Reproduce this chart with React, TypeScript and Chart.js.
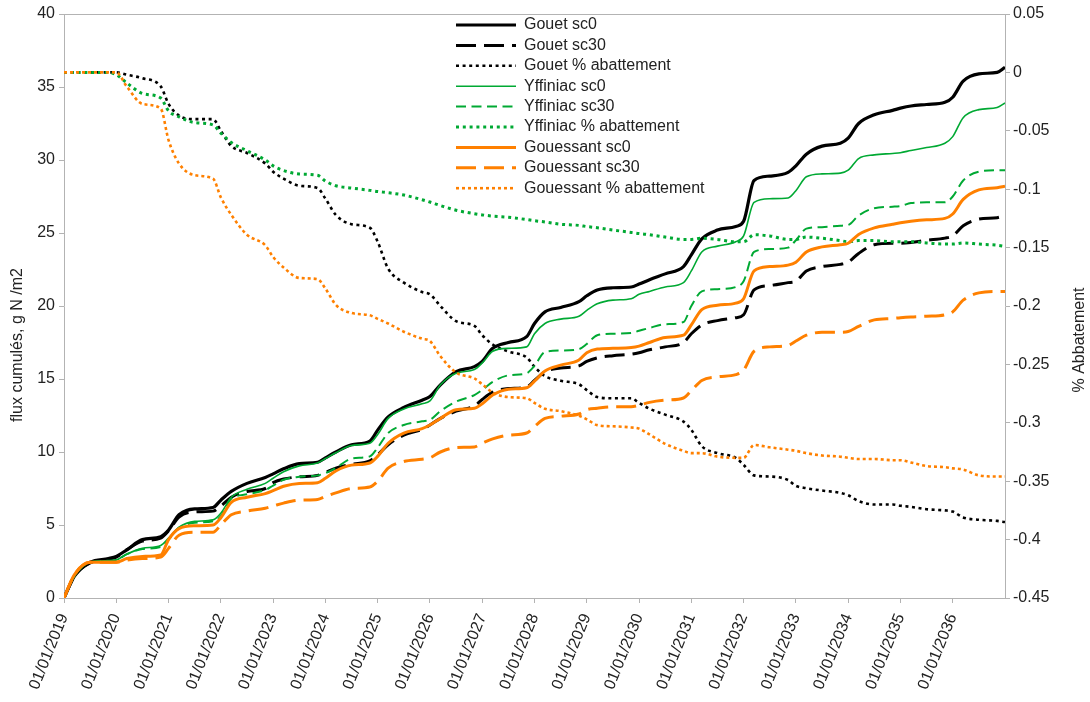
import React, { useEffect, useRef } from 'react';
import { Chart, registerables } from 'chart.js';

Chart.register(...registerables);

const FONT = "'Liberation Sans', Arial, sans-serif";
const TEXT = '#222222';
const AXIS = '#b3b3b3';

// x positions (decimal years): 4 samples per year
const dates = [
  2019, 2019.2, 2019.5, 2019.85,
  2020, 2020.2, 2020.5, 2020.85,
  2021, 2021.2, 2021.5, 2021.85,
  2022, 2022.2, 2022.5, 2022.85,
  2023, 2023.2, 2023.5, 2023.85,
  2024, 2024.2, 2024.5, 2024.85,
  2025, 2025.2, 2025.5, 2025.85,
  2026, 2026.2, 2026.5, 2026.85,
  2027, 2027.2, 2027.5, 2027.85,
  2028, 2028.2, 2028.5, 2028.85,
  2029, 2029.2, 2029.5, 2029.85,
  2030, 2030.2, 2030.5, 2030.85,
  2031, 2031.2, 2031.5, 2031.85,
  2032, 2032.2, 2032.5, 2032.85,
  2033, 2033.2, 2033.5, 2033.85,
  2034, 2034.2, 2034.5, 2034.85,
  2035, 2035.2, 2035.5, 2035.85,
  2036, 2036.2, 2036.5, 2036.85,
  2037,
];

const xTickYears = [2019, 2020, 2021, 2022, 2023, 2024, 2025, 2026, 2027, 2028, 2029, 2030, 2031, 2032, 2033, 2034, 2035, 2036];
const xTickLabels = [
  '01/01/2019', '01/01/2020', '01/01/2021', '01/01/2022', '01/01/2023', '01/01/2024',
  '01/01/2025', '01/01/2026', '01/01/2027', '01/01/2028', '01/01/2029', '01/01/2030',
  '01/01/2031', '01/01/2032', '01/01/2033', '01/01/2034', '01/01/2035', '01/01/2036',
];
const leftTicks = [0, 5, 10, 15, 20, 25, 30, 35, 40];
const rightTicks = [-0.45, -0.4, -0.35, -0.3, -0.25, -0.2, -0.15, -0.1, -0.05, 0, 0.05];
const rightTickLabels = ['-0.45', '-0.4', '-0.35', '-0.3', '-0.25', '-0.2', '-0.15', '-0.1', '-0.05', '0', '0.05'];

const seriesLabels = [
  'Gouet sc0', 'Gouet sc30', 'Gouet % abattement',
  'Yffiniac sc0', 'Yffiniac sc30', 'Yffiniac % abattement',
  'Gouessant sc0', 'Gouessant sc30', 'Gouessant % abattement',
];

const gouetSc0 = [
  0, 1.5, 2.45, 2.7,
  2.85, 3.3, 4.0, 4.2,
  4.65, 5.7, 6.1, 6.2,
  6.7, 7.3, 7.85, 8.25,
  8.5, 8.85, 9.2, 9.3,
  9.6, 10.0, 10.5, 10.75,
  11.5, 12.4, 13.05, 13.55,
  13.8, 14.6, 15.5, 15.85,
  16.2, 17.1, 17.5, 17.9,
  18.8, 19.6, 19.9, 20.3,
  20.7, 21.1, 21.25, 21.3,
  21.5, 21.8, 22.2, 22.7,
  23.5, 24.6, 25.2, 25.45,
  25.8, 28.6, 28.9, 29.15,
  29.6, 30.4, 30.95, 31.15,
  31.5, 32.5, 33.1, 33.4,
  33.55, 33.7, 33.8, 33.95,
  34.3, 35.4, 35.9, 36.0,
  36.35,
];

const gouetSc30 = [
  0, 1.5, 2.4, 2.65,
  2.8, 3.3, 3.9, 4.1,
  4.6, 5.55, 5.9, 5.95,
  6.3, 6.9, 7.3, 7.5,
  7.9, 8.15, 8.3, 8.4,
  8.6, 8.9, 9.15, 9.4,
  9.8, 10.5, 11.15, 11.55,
  11.85, 12.3, 12.8, 13.15,
  13.6, 14.1, 14.35, 14.45,
  14.9, 15.5, 15.75, 15.9,
  16.2, 16.45, 16.6, 16.7,
  16.8, 17.0, 17.2, 17.5,
  18.1, 18.7, 19.0, 19.2,
  19.4, 21.1, 21.4, 21.6,
  21.7, 22.4, 22.7, 22.85,
  23.0, 23.6, 24.2, 24.3,
  24.3, 24.35, 24.5, 24.65,
  24.8, 25.5, 25.95, 26.05,
  26.2,
];

const gouetPct = [
  0, 0, 0, 0,
  0, -0.002, -0.005, -0.012,
  -0.027, -0.037, -0.04, -0.04,
  -0.05, -0.063, -0.069, -0.078,
  -0.085, -0.091, -0.097, -0.099,
  -0.108, -0.122, -0.13, -0.133,
  -0.145, -0.168, -0.18, -0.188,
  -0.19, -0.2, -0.213, -0.217,
  -0.225, -0.233, -0.239, -0.244,
  -0.252, -0.26, -0.264, -0.267,
  -0.272, -0.278, -0.279, -0.279,
  -0.283, -0.288, -0.293, -0.299,
  -0.306, -0.32, -0.326, -0.33,
  -0.336, -0.345, -0.346, -0.349,
  -0.354, -0.356, -0.358, -0.36,
  -0.362, -0.367, -0.37, -0.37,
  -0.371, -0.372, -0.374, -0.375,
  -0.376, -0.381, -0.383, -0.384,
  -0.385,
];

const yffSc0 = [
  0, 1.5, 2.45, 2.55,
  2.6, 3.0, 3.4, 3.6,
  4.1, 4.85, 5.25, 5.35,
  5.8, 6.9, 7.45, 7.85,
  8.2, 8.65, 9.05, 9.25,
  9.55, 9.95, 10.45, 10.6,
  11.2, 12.3, 12.95, 13.3,
  13.5, 14.6, 15.4, 15.65,
  16.1, 16.9, 17.1, 17.2,
  18.1, 18.8, 19.1, 19.3,
  19.7, 20.15, 20.4, 20.5,
  20.8, 21.0, 21.3, 21.6,
  22.4, 23.7, 24.1, 24.4,
  24.8, 27.1, 27.35, 27.4,
  27.9, 28.85, 29.05, 29.1,
  29.3, 30.1, 30.35, 30.45,
  30.5, 30.65, 30.85, 31.15,
  31.6, 32.9, 33.45, 33.6,
  33.9,
];

const yffSc30 = [
  0, 1.5, 2.45, 2.55,
  2.6, 3.0, 3.35, 3.5,
  4.0, 4.8, 5.15, 5.25,
  5.6, 6.8, 7.1, 7.4,
  7.7, 8.1, 8.3, 8.4,
  8.55, 8.9, 9.55, 9.7,
  10.3, 11.3, 11.85, 12.1,
  12.2, 12.8, 13.45, 13.9,
  14.25, 14.8, 15.25, 15.4,
  15.9, 16.85, 16.95, 17.05,
  17.4, 18.0, 18.1, 18.15,
  18.3, 18.5, 18.75, 18.9,
  20.0, 21.0, 21.15, 21.3,
  21.7, 23.7, 23.9, 24.0,
  24.5, 25.3, 25.4, 25.5,
  25.55, 26.2, 26.7, 26.8,
  26.85, 27.05, 27.1, 27.1,
  27.5, 28.6, 29.2, 29.3,
  29.3,
];

const yffPct = [
  0, 0, 0, 0,
  -0.002, -0.009, -0.018, -0.022,
  -0.033, -0.038, -0.043, -0.045,
  -0.052, -0.06, -0.067, -0.075,
  -0.08, -0.084, -0.087, -0.088,
  -0.093, -0.097, -0.099, -0.101,
  -0.102, -0.103, -0.105, -0.109,
  -0.111, -0.114, -0.118, -0.121,
  -0.122, -0.123, -0.124, -0.126,
  -0.127, -0.128, -0.13, -0.131,
  -0.132, -0.133, -0.135, -0.137,
  -0.138, -0.139, -0.141, -0.143,
  -0.143, -0.142, -0.143, -0.145,
  -0.145, -0.139, -0.14, -0.143,
  -0.143, -0.141, -0.142, -0.144,
  -0.145, -0.144, -0.144, -0.145,
  -0.145, -0.145, -0.146, -0.147,
  -0.147, -0.146, -0.147, -0.148,
  -0.149,
];

const gouSc0 = [
  0, 1.6, 2.45, 2.45,
  2.45, 2.7, 2.85, 2.95,
  4.0, 4.75, 4.95, 5.0,
  5.5, 6.55, 6.9, 7.15,
  7.35, 7.65, 7.85, 7.9,
  8.2, 8.7, 9.1, 9.25,
  9.7, 10.6, 11.3, 11.6,
  11.85, 12.3, 12.9, 13.0,
  13.3, 13.9, 14.3, 14.4,
  14.85, 15.55, 15.95, 16.3,
  16.8, 17.05, 17.1, 17.15,
  17.25, 17.5, 17.85, 18.0,
  18.7, 19.75, 20.05, 20.2,
  20.5, 22.4, 22.7, 22.8,
  23.0, 23.7, 24.05, 24.2,
  24.3, 24.9, 25.35, 25.6,
  25.7, 25.8, 25.9, 26.0,
  26.3, 27.3, 27.95, 28.1,
  28.2,
];

const gouSc30 = [
  0, 1.6, 2.45, 2.45,
  2.45, 2.6, 2.7, 2.8,
  3.4, 4.3, 4.5, 4.5,
  5.0, 5.7, 5.95, 6.15,
  6.3, 6.5, 6.7, 6.75,
  6.95, 7.2, 7.5, 7.6,
  8.0, 8.9, 9.35, 9.5,
  9.6, 10.0, 10.3, 10.35,
  10.6, 10.9, 11.15, 11.3,
  11.75, 12.3, 12.45, 12.6,
  12.9, 13.0, 13.1, 13.1,
  13.2, 13.4, 13.55, 13.7,
  14.2, 14.9, 15.15, 15.3,
  15.6, 16.9, 17.2, 17.3,
  17.6, 18.0, 18.2, 18.2,
  18.25, 18.6, 19.05, 19.15,
  19.2, 19.25, 19.3, 19.4,
  19.6, 20.4, 20.9, 21.0,
  21.0,
];

const gouPct = [
  0, 0, 0, 0,
  0, -0.012, -0.027, -0.031,
  -0.058, -0.078, -0.088, -0.091,
  -0.107, -0.122, -0.139, -0.148,
  -0.158, -0.167, -0.176, -0.177,
  -0.185, -0.199, -0.206, -0.208,
  -0.211, -0.215, -0.222, -0.228,
  -0.23, -0.243, -0.257, -0.262,
  -0.267, -0.274, -0.278, -0.279,
  -0.283, -0.288, -0.29, -0.294,
  -0.297, -0.302, -0.303, -0.304,
  -0.305, -0.31, -0.318, -0.324,
  -0.326, -0.326, -0.329, -0.33,
  -0.33, -0.319, -0.321, -0.323,
  -0.324, -0.326, -0.328, -0.329,
  -0.33, -0.331, -0.331, -0.332,
  -0.332, -0.334, -0.337, -0.338,
  -0.339, -0.34, -0.345, -0.346,
  -0.346,
];

const BLACK = '#000000';
const GREEN = '#00a933';
const ORANGE = '#ff8000';

const seriesStyles = [
  { color: BLACK, width: 3.2, dash: [] as number[], axis: 'y' },
  { color: BLACK, width: 3, dash: [20, 8], axis: 'y' },
  { color: BLACK, width: 2.6, dash: [3, 3.6], axis: 'y1' },
  { color: GREEN, width: 1.6, dash: [] as number[], axis: 'y' },
  { color: GREEN, width: 2, dash: [10, 5.5], axis: 'y' },
  { color: GREEN, width: 3, dash: [3, 3.8], axis: 'y1' },
  { color: ORANGE, width: 3, dash: [] as number[], axis: 'y' },
  { color: ORANGE, width: 3, dash: [20, 8], axis: 'y' },
  { color: ORANGE, width: 2.6, dash: [3, 3], axis: 'y1' },
];

const LEGEND_LEFT = 451.6;
const LEGEND_TOP = 12.6;

const legendPlacer = {
  id: 'legendPlacer',
  beforeDraw(chart: any) {
    const lg = chart.legend;
    if (!lg) return;
    lg.left = LEGEND_LEFT;
    lg.top = LEGEND_TOP;
    lg.right = LEGEND_LEFT + 330;
    lg.bottom = LEGEND_TOP + 230;
    lg.width = 330;
    lg.height = 230;
  },
};

const axisTitles = {
  id: 'axisTitles',
  afterDraw(chart: any) {
    const ctx = chart.ctx;
    ctx.save();
    ctx.fillStyle = TEXT;
    ctx.font = `16px ${FONT}`;
    ctx.textAlign = 'center';
    ctx.textBaseline = 'middle';
    ctx.translate(18, 345);
    ctx.rotate(-Math.PI / 2);
    ctx.fillText('flux cumulés, g N /m2', 0, 0);
    ctx.restore();
    ctx.save();
    ctx.fillStyle = TEXT;
    ctx.font = `16px ${FONT}`;
    ctx.textAlign = 'center';
    ctx.textBaseline = 'middle';
    ctx.translate(1080, 340);
    ctx.rotate(-Math.PI / 2);
    ctx.fillText('% Abbatement', 0, 0);
    ctx.restore();
  },
};

export default function App() {
  const ref = useRef<HTMLCanvasElement | null>(null);

  useEffect(() => {
    document.body.style.margin = '0';
    const canvas = ref.current;
    if (!canvas) return;
    const values = [gouetSc0, gouetSc30, gouetPct, yffSc0, yffSc30, yffPct, gouSc0, gouSc30, gouPct];
    const datasets = values.map((vals, i) => ({
      label: seriesLabels[i],
      data: dates.map((d, j) => ({ x: d, y: vals[j] })),
      yAxisID: seriesStyles[i].axis,
      borderColor: seriesStyles[i].color,
      backgroundColor: seriesStyles[i].color,
      borderWidth: seriesStyles[i].width,
      borderDash: seriesStyles[i].dash,
      borderCapStyle: 'butt' as const,
      borderJoinStyle: 'round' as const,
      pointRadius: 0,
      pointHoverRadius: 0,
      cubicInterpolationMode: 'monotone' as const,
      fill: false,
      order: values.length - i,
    }));

    const chart = new Chart(canvas, {
      type: 'line',
      data: { datasets },
      plugins: [legendPlacer, axisTitles],
      options: {
        animation: false,
        responsive: false,
        devicePixelRatio: 1,
        events: [],
        layout: { padding: { top: 14, left: 0, right: 0, bottom: 0 } },
        font: { family: FONT, size: 16 },
        color: TEXT,
        plugins: {
          tooltip: { enabled: false },
          title: { display: false },
          legend: {
            display: true,
            position: 'chartArea',
            align: 'start',
            labels: {
              usePointStyle: true,
              pointStyle: 'line',
              pointStyleWidth: 60,
              padding: 4.4,
              color: TEXT,
              font: { family: FONT, size: 16 },
              generateLabels: (c: any) =>
                c.data.datasets.map((ds: any, i: number) => ({
                  text: ds.label,
                  fillStyle: ds.borderColor,
                  strokeStyle: ds.borderColor,
                  lineWidth: ds.borderWidth,
                  lineDash: ds.borderDash,
                  lineCap: 'butt',
                  pointStyle: 'line',
                  hidden: false,
                  fontColor: TEXT,
                  datasetIndex: i,
                })),
            },
          } as any,
        },
        scales: {
          x: {
            type: 'linear',
            min: 2019,
            max: 2037,
            afterBuildTicks: (scale: any) => {
              scale.ticks = xTickYears.map((v) => ({ value: v }));
            },
            afterFit: (scale: any) => {
              scale.height = 104;
            },
            ticks: {
              autoSkip: false,
              minRotation: 68,
              maxRotation: 68,
              padding: 8,
              color: TEXT,
              font: { family: FONT, size: 16 },
              callback: (value: any) => {
                const k = xTickYears.indexOf(Number(value));
                return k >= 0 ? xTickLabels[k] : '';
              },
            },
            grid: { drawOnChartArea: false, drawTicks: true, tickLength: 5, color: AXIS, tickColor: AXIS },
            border: { display: true, color: AXIS, width: 1 },
          },
          y: {
            type: 'linear',
            position: 'left',
            min: 0,
            max: 40,
            afterBuildTicks: (scale: any) => {
              scale.ticks = leftTicks.map((v) => ({ value: v }));
            },
            afterFit: (scale: any) => {
              scale.width = 64;
            },
            ticks: {
              padding: 4,
              color: TEXT,
              font: { family: FONT, size: 16 },
              callback: (value: any, index: number) => String(leftTicks[index]),
            },
            grid: {
              drawOnChartArea: true,
              drawTicks: true,
              tickLength: 5,
              color: (ctx: any) => (ctx.tick && ctx.tick.value === 40 ? AXIS : 'rgba(0,0,0,0)'),
              tickColor: AXIS,
            },
            border: { display: true, color: AXIS, width: 1 },
          },
          y1: {
            type: 'linear',
            position: 'right',
            min: -0.45,
            max: 0.05,
            afterBuildTicks: (scale: any) => {
              scale.ticks = rightTicks.map((v) => ({ value: v }));
            },
            afterFit: (scale: any) => {
              scale.width = 85;
            },
            ticks: {
              padding: 3,
              color: TEXT,
              font: { family: FONT, size: 16 },
              callback: (value: any, index: number) => rightTickLabels[index],
            },
            grid: { drawOnChartArea: false, drawTicks: true, tickLength: 5, color: AXIS, tickColor: AXIS },
            border: { display: true, color: AXIS, width: 1 },
          },
        },
      } as any,
    });

    return () => {
      chart.destroy();
    };
  }, []);

  return (
    <div style={{ width: 1090, height: 702, background: '#ffffff' }}>
      <canvas ref={ref} width={1090} height={702} style={{ display: 'block' }} />
    </div>
  );
}
